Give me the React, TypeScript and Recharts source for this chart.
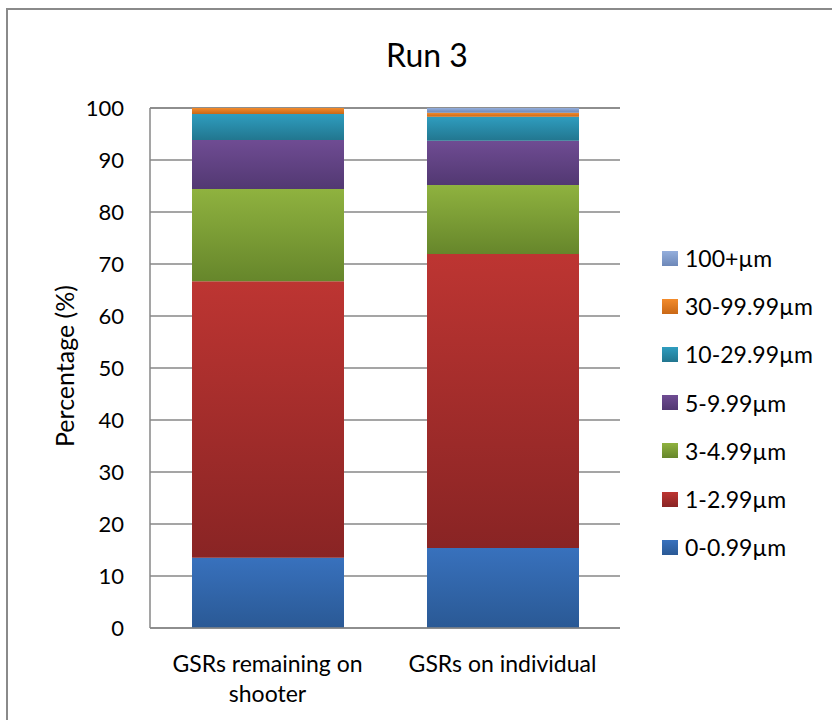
import { BarChart, Bar, XAxis, YAxis, CartesianGrid } from 'recharts'

const categories = ['GSRs remaining on shooter', 'GSRs on individual']
const tickLines = [['GSRs remaining on', 'shooter'], ['GSRs on individual']]
const sizeBins = ['0-0.99µm', '1-2.99µm', '3-4.99µm', '5-9.99µm', '10-29.99µm', '30-99.99µm', '100+µm']
const remainingOnShooter = [13.5, 53.2, 17.7, 9.45, 5.0, 1.15, 0]
const onIndividual = [15.4, 56.5, 13.3, 8.5, 4.6, 0.8, 0.9]
const yTicks = [0, 10, 20, 30, 40, 50, 60, 70, 80, 90, 100]

// top / bottom colours of each segment gradient
const binColors = [
  ['#3871bd', '#2a5995'],
  ['#bd3532', '#892424'],
  ['#8fb23f', '#66862b'],
  ['#6f4c93', '#523872'],
  ['#2f9dbf', '#22768f'],
  ['#f38b2b', '#c96816'],
  ['#94aedc', '#6d88b8'],
]

const seriesValues = [remainingOnShooter, onIndividual]
const data = categories.map((name, i) => {
  const row: Record<string, string | number> = { name }
  sizeBins.forEach((bin, j) => { row[bin] = seriesValues[i][j] })
  return row
})

const font = 'Lato, "Open Sans", sans-serif'

function XTick(props: any) {
  const { x, y, index } = props
  const lines = tickLines[index] || [props.payload.value]
  return (
    <text x={x} y={y} textAnchor="middle" fill="#000" fontSize={23} fontFamily={font}>
      {lines.map((l, k) => (
        <tspan key={k} x={x} dy={k === 0 ? 42 : 30}>{l}</tspan>
      ))}
    </text>
  )
}

export default function App() {
  return (
    <div style={{ position: 'absolute', left: 0, top: 0, width: 832, height: 720, background: '#fff', overflow: 'hidden', fontFamily: font }}>
      <div style={{ position: 'absolute', left: 6, top: 8, width: 840, height: 740, borderLeft: '2px solid #8a8a8a', borderTop: '2px solid #8a8a8a' }} />
      <div style={{ position: 'absolute', left: 0, width: 854, top: 35, textAlign: 'center', fontSize: 32 }}>Run 3</div>
      <div style={{ position: 'absolute', left: 64, top: 366, transform: 'translate(-50%, -50%) rotate(-90deg)', whiteSpace: 'nowrap', fontSize: 25 }}>Percentage (%)</div>
      <div style={{ position: 'absolute', left: 0, top: 0 }}>
        <BarChart width={832} height={720} data={data} margin={{ top: 108, right: 212, bottom: 62, left: 0 }} barSize={152}>
          <defs>
            {binColors.map((c, j) => (
              <linearGradient key={j} id={`g${j}`} x1="0" y1="0" x2="0" y2="1">
                <stop offset="0%" stopColor={c[0]} />
                <stop offset="100%" stopColor={c[1]} />
              </linearGradient>
            ))}
          </defs>
          <CartesianGrid vertical={false} stroke="#878787" strokeWidth={1.5} />
          <XAxis dataKey="name" tickLine={false} tickSize={0} stroke="#878787" strokeWidth={1.5} tick={<XTick />} interval={0} />
          <YAxis width={150} domain={[0, 100]} ticks={yTicks} tickLine={false} tickSize={0} tickMargin={26} stroke="#878787" strokeWidth={1.5} tick={{ fill: '#000', fontSize: 22, fontFamily: font }} />
          {sizeBins.map((bin, j) => (
            <Bar key={bin} dataKey={bin} stackId="a" fill={`url(#g${j})`} isAnimationActive={false} />
          ))}
        </BarChart>
      </div>
      <div style={{ position: 'absolute', left: 662, top: 234 }}>
        {sizeBins.map((bin, j) => sizeBins[sizeBins.length - 1 - j]).map((bin) => {
          const j = sizeBins.indexOf(bin)
          return (
            <div key={bin} style={{ display: 'flex', alignItems: 'center', height: 48.2, fontSize: 23 }}>
              <span style={{ width: 16, height: 15, marginRight: 7, background: `linear-gradient(${binColors[j][0]}, ${binColors[j][1]})` }} />
              {bin}
            </div>
          )
        })}
      </div>
    </div>
  )
}
